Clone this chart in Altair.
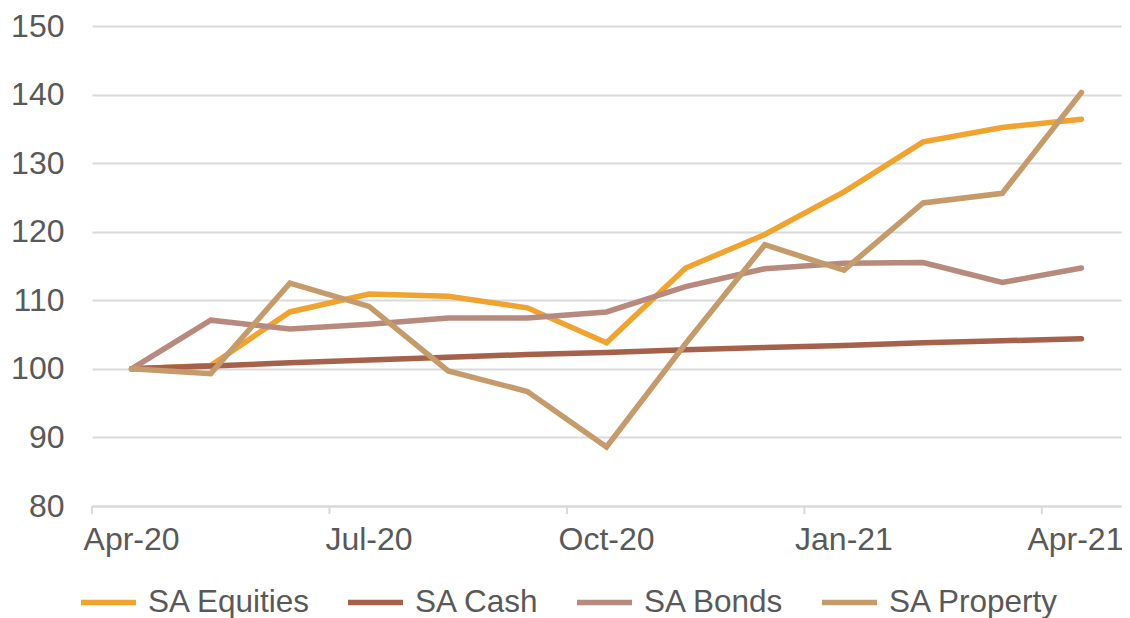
import altair as alt
import pandas as pd

months = ["Apr-20", "May-20", "Jun-20", "Jul-20", "Aug-20", "Sep-20", "Oct-20",
          "Nov-20", "Dec-20", "Jan-21", "Feb-21", "Mar-21", "Apr-21"]
equities = [100, 100.5, 108.3, 110.9, 110.6, 108.9, 103.8, 114.7, 119.6, 125.8, 133.1, 135.2, 136.4]
cash = [100, 100.4, 100.9, 101.3, 101.7, 102.1, 102.4, 102.8, 103.1, 103.4, 103.8, 104.1, 104.4]
bonds = [100, 107.1, 105.8, 106.5, 107.4, 107.4, 108.3, 112.0, 114.6, 115.4, 115.5, 112.6, 114.7]
prop = [100, 99.3, 112.5, 109.1, 99.7, 96.7, 88.6, 103.7, 118.1, 114.4, 124.2, 125.6, 140.3]
series = ["SA Equities", "SA Cash", "SA Bonds", "SA Property"]
colors = ["#F0A32F", "#A5614A", "#B8897D", "#C59B6B"]
tick_labels = ["Apr-20", "Jul-20", "Oct-20", "Jan-21", "Apr-21"]

rows = []
for name, vals in zip(series, [equities, cash, bonds, prop]):
    for m, v in zip(months, vals):
        rows.append({"month": m, "value": v, "series": name})
df = pd.DataFrame(rows)
ticks_df = pd.DataFrame({"month": tick_labels})

FONT = "Liberation Sans"
xscale = alt.Scale(type="band", paddingInner=0, paddingOuter=0, domain=months)

lines = alt.Chart(df).mark_line(strokeWidth=5.5, strokeCap="round", strokeJoin="miter").encode(
    x=alt.X("month:O", sort=months, scale=xscale,
            axis=alt.Axis(title=None, values=tick_labels, labelAngle=0,
                          ticks=False, domainColor="#D9D9D9", domainWidth=2,
                          labelFont=FONT, labelFontSize=32, labelColor="#595959",
                          labelPadding=18, grid=False,
                          labelOffset={"condition": {"test": "datum.value == 'Apr-21'", "value": -6}, "value": 0})),
    y=alt.Y("value:Q", scale=alt.Scale(domain=[80, 150], nice=False, zero=False),
            axis=alt.Axis(title=None, values=[80, 90, 100, 110, 120, 130, 140, 150],
                          domain=False, ticks=False, gridColor="#D9D9D9", gridWidth=2,
                          labelFont=FONT, labelFontSize=32, labelColor="#595959",
                          labelPadding=28)),
    color=alt.Color("series:N", sort=series,
                    scale=alt.Scale(domain=series, range=colors),
                    legend=alt.Legend(title=None, orient="none", direction="horizontal",
                                      legendX=-14, legendY=546,
                                      symbolType="stroke", symbolStrokeWidth=5.5,
                                      symbolSize=3025, labelFont=FONT, labelFontSize=31.5,
                                      labelColor="#595959", labelOffset=9, labelLimit=0,
                                      columnPadding=26, symbolOffset=0)),
    order=alt.Order("series_order:Q"),
).transform_calculate(
    series_order="indexof(['SA Equities','SA Cash','SA Bonds','SA Property'], datum.series)"
)

tick_marks = alt.Chart(ticks_df).mark_rule(color="#D9D9D9", strokeWidth=2).encode(
    x=alt.X("month:O", sort=months, scale=xscale, bandPosition=0),
    y=alt.value(480),
    y2=alt.value(488),
)

chart = alt.layer(lines, tick_marks).properties(
    width=1029, height=480,
    autosize=alt.AutoSizeParams(type="none"),
    padding={"left": 84, "top": 18, "right": 1, "bottom": 112},
).configure_view(stroke=None)

chart.save("out.html", embed_options={"renderer": "svg", "actions": False})
